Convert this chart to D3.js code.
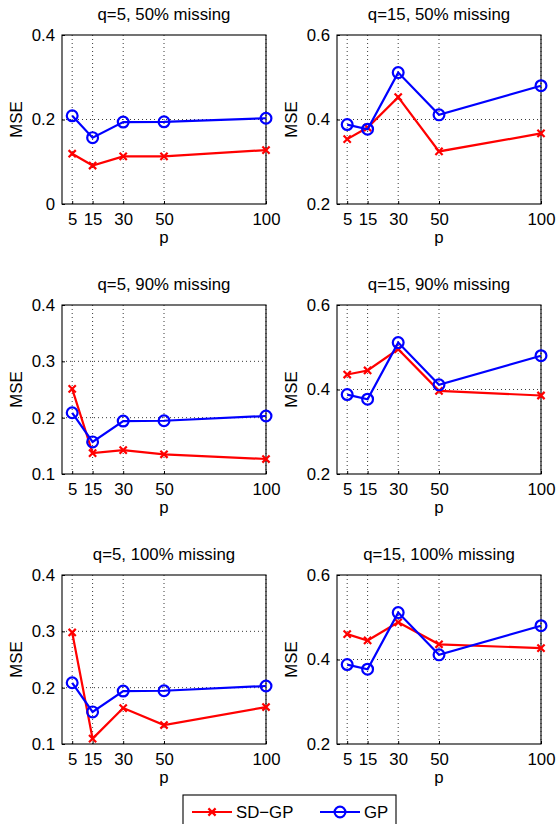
<!DOCTYPE html>
<html>
<head>
<meta charset="utf-8">
<script src="https://cdn.jsdelivr.net/npm/d3@7"></script>
<style>
  body { margin: 0; background: #fff; }
  text { font-family: "Liberation Sans", Arial, sans-serif; fill: #000; }
</style>
</head>
<body>
<div id="chart"></div>
<script>
// 1: DATA
const pValues = [5, 15, 30, 50, 100];

const gpQ5  = [0.2087, 0.157, 0.194, 0.1945, 0.203];
const gpQ15 = [0.388, 0.377, 0.511, 0.411, 0.480];

const sdgpQ5_50  = [0.119, 0.091, 0.1126, 0.1126, 0.1276];
const sdgpQ5_90  = [0.251, 0.137, 0.1425, 0.135, 0.1266];
const sdgpQ5_100 = [0.298, 0.1095, 0.1638, 0.1337, 0.1656];
const sdgpQ15_50  = [0.3535, 0.381, 0.4528, 0.3244, 0.367];
const sdgpQ15_90  = [0.4354, 0.445, 0.4953, 0.3969, 0.3858];
const sdgpQ15_100 = [0.460, 0.445, 0.488, 0.436, 0.4268];

const panelTitles = [
  "q=5, 50% missing", "q=15, 50% missing",
  "q=5, 90% missing", "q=15, 90% missing",
  "q=5, 100% missing", "q=15, 100% missing"
];
const yTicksQ5_50 = [0, 0.2, 0.4];
const yTicksQ5 = [0.1, 0.2, 0.3, 0.4];
const yTicksQ15 = [0.2, 0.4, 0.6];

const seriesNames = ["SD\u2212GP", "GP"];
const seriesColors = ["#ff0000", "#0000ff"];

// panel table built from the arrays above
const panels = [
  { title: panelTitles[0], yTicks: yTicksQ5_50, sdgp: sdgpQ5_50,  gp: gpQ5 },
  { title: panelTitles[1], yTicks: yTicksQ15,   sdgp: sdgpQ15_50, gp: gpQ15 },
  { title: panelTitles[2], yTicks: yTicksQ5,    sdgp: sdgpQ5_90,  gp: gpQ5 },
  { title: panelTitles[3], yTicks: yTicksQ15,   sdgp: sdgpQ15_90, gp: gpQ15 },
  { title: panelTitles[4], yTicks: yTicksQ5,    sdgp: sdgpQ5_100, gp: gpQ5 },
  { title: panelTitles[5], yTicks: yTicksQ15,   sdgp: sdgpQ15_100, gp: gpQ15 }
];

// 2: LAYOUT
const W = 557, H = 824;
const colX = [62, 337];
const rowY = [35, 305, 575];
const pw = 204, ph = 169;
const fs = 16.8;

const svg = d3.select("#chart").append("svg")
  .attr("width", W).attr("height", H);

const xScale = d3.scaleLinear().domain([0, 100]).range([0, pw]);

function drawCross(g, x, y, color) {
  const s = 3.6;
  g.append("path")
    .attr("d", `M${x - s},${y - s}L${x + s},${y + s}M${x - s},${y + s}L${x + s},${y - s}`)
    .attr("stroke", color).attr("stroke-width", 2.2).attr("fill", "none");
}
function drawCircle(g, x, y, color) {
  g.append("circle").attr("cx", x).attr("cy", y).attr("r", 5.4)
    .attr("stroke", color).attr("stroke-width", 2.2).attr("fill", "none");
}

panels.forEach((pn, i) => {
  const g = svg.append("g")
    .attr("transform", `translate(${colX[i % 2]},${rowY[Math.floor(i / 2)]})`);

  const yDom = d3.extent(pn.yTicks);
  const yScale = d3.scaleLinear().domain(yDom).range([ph, 0]);

  // grid (dotted)
  g.selectAll(".vgrid").data(pValues).enter().append("line")
    .attr("x1", d => xScale(d)).attr("x2", d => xScale(d))
    .attr("y1", 0).attr("y2", ph)
    .attr("stroke", "#222").attr("stroke-width", 0.9)
    .attr("stroke-dasharray", "1,3");
  g.selectAll(".hgrid").data(pn.yTicks.slice(1, -1)).enter().append("line")
    .attr("x1", 0).attr("x2", pw)
    .attr("y1", d => yScale(d)).attr("y2", d => yScale(d))
    .attr("stroke", "#222").attr("stroke-width", 0.9)
    .attr("stroke-dasharray", "1,3");

  // axes (MATLAB-style inward ticks)
  g.append("g").attr("transform", `translate(0,${ph})`)
    .call(d3.axisBottom(xScale).tickValues(pValues).tickSizeInner(-3).tickSizeOuter(0).tickPadding(9))
    .call(a => a.select(".domain").remove())
    .call(a => a.selectAll("text").attr("font-size", fs).style("font-family", "Liberation Sans, Arial, sans-serif"));
  g.append("g")
    .call(d3.axisLeft(yScale).tickValues(pn.yTicks).tickFormat(d => d === 0 ? "0" : d3.format(".1f")(d))
      .tickSizeInner(-3).tickSizeOuter(0).tickPadding(7))
    .call(a => a.select(".domain").remove())
    .call(a => a.selectAll("text").attr("font-size", fs).style("font-family", "Liberation Sans, Arial, sans-serif"));

  g.append("rect").attr("width", pw).attr("height", ph)
    .attr("fill", "none").attr("stroke", "#000").attr("stroke-width", 1.1);

  // lines + markers
  const line = d3.line().x(d => xScale(d[0])).y(d => yScale(d[1]));
  const sd = pValues.map((p, k) => [p, pn.sdgp[k]]);
  const gp = pValues.map((p, k) => [p, pn.gp[k]]);

  g.append("path").attr("d", line(sd)).attr("fill", "none")
    .attr("stroke", seriesColors[0]).attr("stroke-width", 2.2);
  sd.forEach(d => drawCross(g, xScale(d[0]), yScale(d[1]), seriesColors[0]));

  g.append("path").attr("d", line(gp)).attr("fill", "none")
    .attr("stroke", seriesColors[1]).attr("stroke-width", 2.2);
  gp.forEach(d => drawCircle(g, xScale(d[0]), yScale(d[1]), seriesColors[1]));

  // labels
  g.append("text").attr("x", pw / 2).attr("y", -15)
    .attr("text-anchor", "middle").attr("font-size", fs).text(pn.title);
  g.append("text").attr("x", pw / 2).attr("y", ph + 39)
    .attr("text-anchor", "middle").attr("font-size", fs).text("p");
  g.append("text")
    .attr("transform", `translate(-40,${ph / 2}) rotate(-90)`)
    .attr("text-anchor", "middle").attr("font-size", fs).text("MSE");
});

// legend
const leg = svg.append("g").attr("transform", "translate(183,795)");
leg.append("rect").attr("width", 213).attr("height", 40)
  .attr("fill", "#fff").attr("stroke", "#000").attr("stroke-width", 1.1);
const legY = 17;
leg.append("line").attr("x1", 9).attr("x2", 49).attr("y1", legY).attr("y2", legY)
  .attr("stroke", seriesColors[0]).attr("stroke-width", 2.2);
drawCross(leg, 29, legY, seriesColors[0]);
leg.append("text").attr("x", 53).attr("y", legY + 6).attr("font-size", fs).text(seriesNames[0]);
leg.append("line").attr("x1", 137).attr("x2", 177).attr("y1", legY).attr("y2", legY)
  .attr("stroke", seriesColors[1]).attr("stroke-width", 2.2);
drawCircle(leg, 157, legY, seriesColors[1]);
leg.append("text").attr("x", 181).attr("y", legY + 6).attr("font-size", fs).text(seriesNames[1]);
</script>
</body>
</html>
